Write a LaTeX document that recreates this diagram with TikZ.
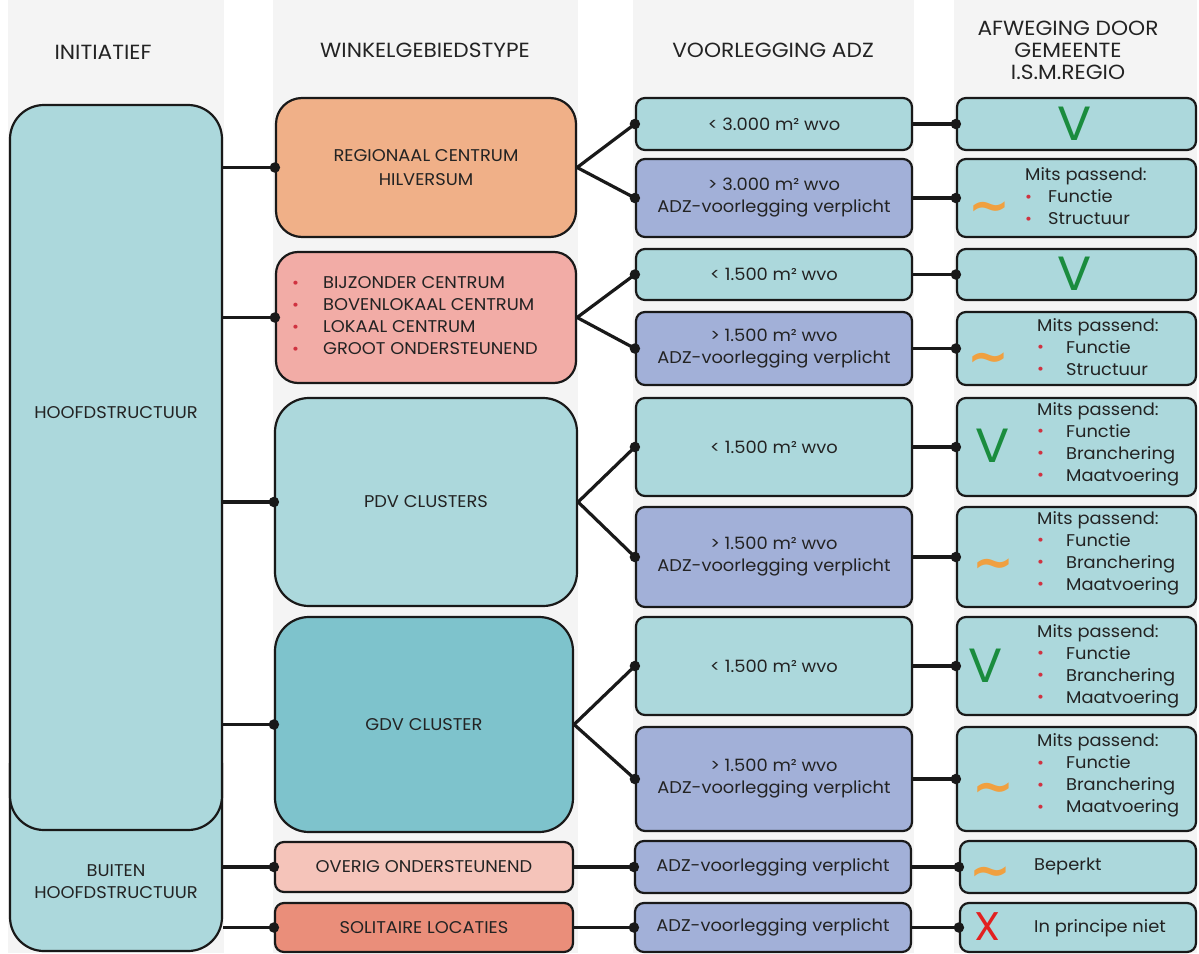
\documentclass[tikz,border=0pt]{standalone}
\usepackage{fontspec}
\setmainfont[FakeStretch=1.05]{Poppins}
\newfontfamily\hdfont[FakeStretch=1.06]{Poppins}
\newfontfamily\dvfont{DejaVu Sans}
\usetikzlibrary{arrows.meta}
\definecolor{tealA}{RGB}{172,216,220}
\definecolor{tealB}{RGB}{126,195,204}
\definecolor{lavA}{RGB}{162,176,216}
\definecolor{orngA}{RGB}{240,176,136}
\definecolor{pinkA}{RGB}{242,172,166}
\definecolor{pinkB}{RGB}{245,196,186}
\definecolor{salmA}{RGB}{234,142,122}
\definecolor{bulred}{RGB}{208,50,64}
\definecolor{vgreen}{RGB}{26,140,62}
\definecolor{tilde}{RGB}{240,160,64}
\definecolor{xred}{RGB}{226,32,32}
\definecolor{txt}{RGB}{35,35,35}
\definecolor{band}{RGB}{244,244,244}
\newcommand\rbul{\textcolor{bulred}{\fontsize{16}{16}\selectfont\raisebox{0.5pt}{•}}}
\newcommand\mitsblock[2]{{\fontsize{17}{22}\selectfont\begin{tabular}{@{}l@{\hspace{#1}}l@{}}\multicolumn{2}{@{}l@{}}{Mits passend:}\\#2\end{tabular}}}
\begin{document}
\begin{tikzpicture}[x=1pt,y=-1pt,
  bx/.style={draw=black!90, line width=2.2pt, inner sep=0pt, text=txt,
    font=\fontsize{17}{22}\selectfont, align=center},
  col1/.style={bx, fill=tealA, rounded corners=34pt},
  col2/.style={bx, rounded corners=#1},
  smallbox/.style={bx, rounded corners=9pt},
  hd/.style={font=\hdfont\fontsize{20.5}{22}\selectfont, text=txt, align=center, inner sep=0pt},
  tx/.style={font=\fontsize{17}{22}\selectfont, text=txt, align=left, inner sep=0pt},
  conn/.style={line width=3.2pt, draw=black!90},
  enddot/.style={circle, fill=black!90, inner sep=0pt, minimum size=10.5pt},
  bigV/.style={text=vgreen, font=\fontsize{48}{48}\selectfont, inner sep=0pt},
  tilde/.style={text=tilde, font=\dvfont\bfseries\fontsize{50}{50}\selectfont, inner sep=0pt, anchor=base},
  bigX/.style={text=xred, font=\fontsize{40}{40}\selectfont, inner sep=0pt}]
\useasboundingbox (0,0) rectangle (1199,953);
\fill[white] (0,0) rectangle (1199,953);
% column bands
\fill[band] (8,0) rectangle (224,953);
\fill[band] (273,0) rectangle (578,953);
\fill[band] (633,0) rectangle (914,953);
\fill[band] (954,0) rectangle (1197,953);
% headers
\node[hd] (h1) at (103,52) {INITIATIEF};
\node[hd] (h2) at (425,50) {WINKELGEBIEDSTYPE};
\node[hd] (h3) at (773,50) {VOORLEGGING ADZ};
\node[hd] (h4) at (1068,50) {AFWEGING DOOR\\GEMEENTE\\I.S.M.REGIO};
% column 1
\node[col1, minimum width=212pt, minimum height=220pt] (buiten) at (116,841) {};
\node[col1, minimum width=212pt, minimum height=725pt] (hoofd) at (116,467.5) {};
\node[tx] (hoofdt) at (116,413) {HOOFDSTRUCTUUR};
\node[tx, align=center] (buitent) at (116,882) {BUITEN\\HOOFDSTRUCTUUR};
% column 2
\node[col2=26pt, fill=orngA, minimum width=300pt, minimum height=139pt] (reg) at (426,167.5) {REGIONAAL CENTRUM\\[2pt]HILVERSUM};
\node[col2=22pt, fill=pinkA, minimum width=300pt, minimum height=131pt] (bij) at (426,317.5) {};
\node[tx, anchor=west] (bijt) at (292,317.5) {\fontsize{17}{22}\selectfont\begin{tabular}{@{}l@{\hspace{24pt}}l@{}}\rbul & BIJZONDER CENTRUM\\ \rbul & BOVENLOKAAL CENTRUM\\ \rbul & LOKAAL CENTRUM\\ \rbul & GROOT ONDERSTEUNEND\end{tabular}};
\node[col2=34pt, fill=tealA, minimum width=302pt, minimum height=208pt] (pdv) at (426,502) {PDV CLUSTERS};
\node[col2=34pt, fill=tealB, minimum width=298pt, minimum height=215pt] (gdv) at (424,724.5) {GDV CLUSTER};
\node[col2=9pt, fill=pinkB, minimum width=298pt, minimum height=50pt] (overig) at (424,867) {OVERIG ONDERSTEUNEND};
\node[col2=9pt, fill=salmA, minimum width=298pt, minimum height=49pt] (sol) at (424,927.5) {SOLITAIRE LOCATIES};
% column 3
\node[smallbox, fill=tealA, minimum width=276pt, minimum height=52pt] (a1) at (774,124) {< 3.000 m² wvo};
\node[smallbox, fill=lavA, minimum width=276pt, minimum height=78pt] (a2) at (774,198) {> 3.000 m² wvo\\ADZ-voorlegging verplicht};
\node[smallbox, fill=tealA, minimum width=276pt, minimum height=51pt] (a3) at (774,274.5) {< 1.500 m² wvo};
\node[smallbox, fill=lavA, minimum width=276pt, minimum height=73pt] (a4) at (774,348.5) {> 1.500 m² wvo\\ADZ-voorlegging verplicht};
\node[smallbox, fill=tealA, minimum width=276pt, minimum height=98pt] (a5) at (774,447) {< 1.500 m² wvo};
\node[smallbox, fill=lavA, minimum width=276pt, minimum height=100pt] (a6) at (774,557) {> 1.500 m² wvo\\ADZ-voorlegging verplicht};
\node[smallbox, fill=tealA, minimum width=276pt, minimum height=98pt] (a7) at (774,666) {< 1.500 m² wvo};
\node[smallbox, fill=lavA, minimum width=276pt, minimum height=104pt] (a8) at (774,779) {> 1.500 m² wvo\\ADZ-voorlegging verplicht};
\node[smallbox, fill=lavA, minimum width=276pt, minimum height=52pt] (a9) at (773,867) {ADZ-voorlegging verplicht};
\node[smallbox, fill=lavA, minimum width=276pt, minimum height=49pt] (a10) at (773,927.5) {ADZ-voorlegging verplicht};
% column 4
\node[smallbox, fill=tealA, minimum width=239pt, minimum height=52pt] (b1) at (1076.5,124) {};
\node[smallbox, fill=tealA, minimum width=239pt, minimum height=78pt] (b2) at (1076.5,198) {};
\node[smallbox, fill=tealA, minimum width=239pt, minimum height=51pt] (b3) at (1076.5,274.5) {};
\node[smallbox, fill=tealA, minimum width=239pt, minimum height=73pt] (b4) at (1076.5,348.5) {};
\node[smallbox, fill=tealA, minimum width=239pt, minimum height=98pt] (b5) at (1076.5,447) {};
\node[smallbox, fill=tealA, minimum width=239pt, minimum height=100pt] (b6) at (1076.5,557) {};
\node[smallbox, fill=tealA, minimum width=239pt, minimum height=98pt] (b7) at (1076.5,666) {};
\node[smallbox, fill=tealA, minimum width=239pt, minimum height=104pt] (b8) at (1076.5,779) {};
\node[smallbox, fill=tealA, minimum width=236pt, minimum height=52pt] (b9) at (1078,867) {};
\node[smallbox, fill=tealA, minimum width=236pt, minimum height=49pt] (b10) at (1078,927.5) {};
% column 4 contents
\node[bigV] (v1) at (1075,124) {V};
\node[tilde] (t2) at (989,222) {\textasciitilde};
\node[tx, anchor=west] (m2) at (1025,198.5) {\mitsblock{16pt}{\rbul & Functie\\ \rbul & Structuur}};
\node[bigV] (v3) at (1075,274) {V};
\node[tilde] (t4) at (988,373) {\textasciitilde};
\node[tx, anchor=west] (m4) at (1037,349) {\mitsblock{22pt}{\rbul & Functie\\ \rbul & Structuur}};
\node[bigV] (v5) at (993,446) {V};
\node[tx, anchor=west] (m5) at (1037,444) {\mitsblock{22pt}{\rbul & Functie\\ \rbul & Branchering\\ \rbul & Maatvoering}};
\node[tilde] (t6) at (993,579) {\textasciitilde};
\node[tx, anchor=west] (m6) at (1037,553) {\mitsblock{22pt}{\rbul & Functie\\ \rbul & Branchering\\ \rbul & Maatvoering}};
\node[bigV] (v7) at (986,666) {V};
\node[tx, anchor=west] (m7) at (1037,666) {\mitsblock{22pt}{\rbul & Functie\\ \rbul & Branchering\\ \rbul & Maatvoering}};
\node[tilde] (t8) at (993,803) {\textasciitilde};
\node[tx, anchor=west] (m8) at (1037,775.5) {\mitsblock{22pt}{\rbul & Functie\\ \rbul & Branchering\\ \rbul & Maatvoering}};
\node[tilde] (t9) at (990,887) {\textasciitilde};
\node[tx, anchor=west] (m9) at (1034,866) {Beperkt};
\node[bigX] (x10) at (988,927) {X};
\node[tx, anchor=west] (m10) at (1034,928) {In principe niet};
% connectors col1 -> col2
\draw[conn] (hoofd.east |- reg.west) -- (reg.west) node[enddot]{};
\draw[conn] (hoofd.east |- bij.west) -- (bij.west) node[enddot]{};
\draw[conn] (hoofd.east |- pdv.west) -- (pdv.west) node[enddot]{};
\draw[conn] (hoofd.east |- gdv.west) -- (gdv.west) node[enddot]{};
\draw[conn] (buiten.east |- overig.west) -- (overig.west) node[enddot]{};
\draw[conn] (buiten.east |- sol.west) -- (sol.west) node[enddot]{};
% col2 -> col3
\draw[conn] (reg.east) -- (a1.west) node[enddot]{};
\draw[conn] (reg.east) -- (a2.west) node[enddot]{};
\draw[conn] (bij.east) -- (a3.west) node[enddot]{};
\draw[conn] (bij.east) -- (a4.west) node[enddot]{};
\draw[conn] (pdv.east) -- (a5.west) node[enddot]{};
\draw[conn] (pdv.east) -- (a6.west) node[enddot]{};
\draw[conn] (gdv.east) -- (a7.west) node[enddot]{};
\draw[conn] (gdv.east) -- (a8.west) node[enddot]{};
\draw[conn] (overig.east) -- (a9.west) node[enddot]{};
\draw[conn] (sol.east) -- (a10.west) node[enddot]{};
% col3 -> col4
\foreach \i in {1,...,10} {\draw[conn] (a\i.east) -- (b\i.west) node[enddot]{};}
\end{tikzpicture}
\end{document}
